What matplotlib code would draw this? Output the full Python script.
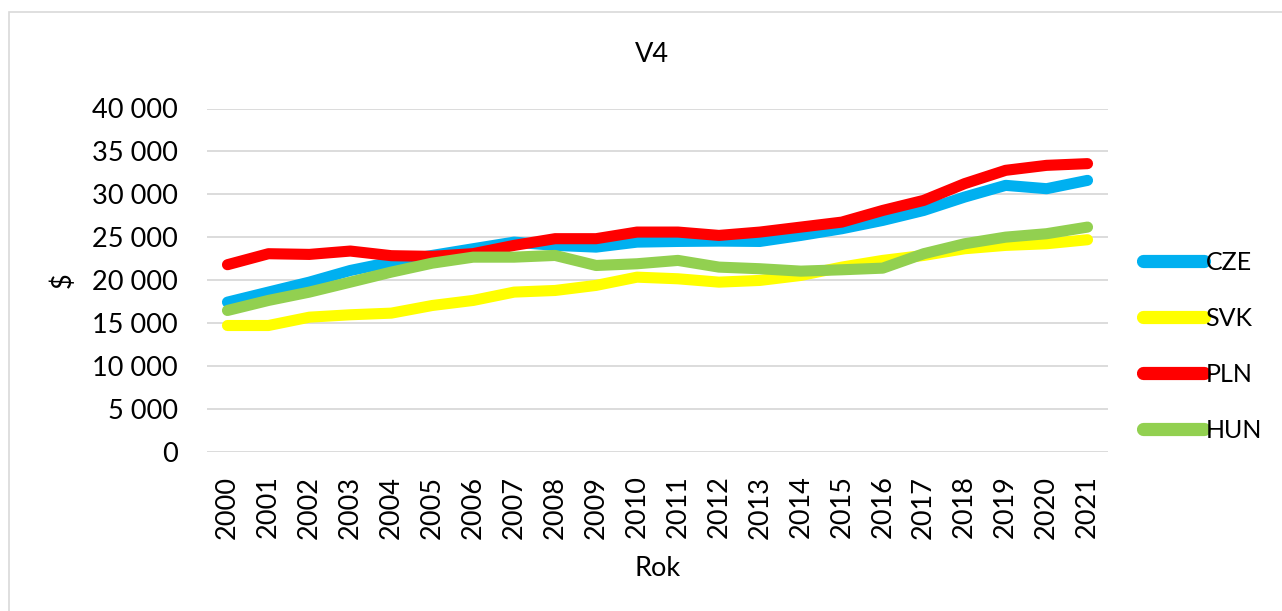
import matplotlib
matplotlib.use('Agg')
import matplotlib.pyplot as plt
from matplotlib.patches import Rectangle
from matplotlib.ticker import FuncFormatter
import numpy as np

plt.rcParams['font.family'] = ['Lato', 'DejaVu Sans']

# data
years = [str(y) for y in range(2000, 2022)]
cze = [17450, 18620, 19780, 21140, 22110, 22890, 23670, 24440, 24060, 23860, 24440,
       24520, 24560, 24520, 25220, 26000, 26970, 28130, 29690, 31050, 30660, 31630]
svk = [14730, 14730, 15700, 15980, 16170, 17060, 17650, 18620, 18810, 19400, 20360,
       20170, 19780, 19980, 20560, 21530, 22310, 22890, 23670, 24060, 24250, 24720]
pln = [21810, 23090, 23010, 23400, 22860, 22780, 23100, 24060, 24840, 24840, 25610,
       25610, 25220, 25610, 26190, 26770, 28130, 29300, 31250, 32800, 33380, 33580]
hun = [16480, 17650, 18620, 19780, 20950, 21990, 22690, 22690, 22890, 21720, 21920,
       22310, 21530, 21340, 21060, 21220, 21410, 23090, 24250, 25020, 25420, 26190]

series = [('CZE', cze, '#00B0F0'),
          ('SVK', svk, '#FFFF00'),
          ('PLN', pln, '#FF0000'),
          ('HUN', hun, '#92D050')]

fig = plt.figure(figsize=(12.82, 6.11), dpi=100)
ax = fig.add_axes([207 / 1282, 1 - 452 / 611, 901 / 1282, 343.5 / 611])

# grey chart border (only left and top visible in the reference)
fig.patches.append(Rectangle((9 / 1282, -0.1), 1.2, 1 - 12 / 611 + 0.1,
                             transform=fig.transFigure, fill=False,
                             edgecolor='#d9d9d9', linewidth=1.2))

x = np.arange(len(years))
for name, vals, col in series:
    ax.plot(x, vals, color=col, linewidth=8, solid_capstyle='round',
            solid_joinstyle='round', label=name)

ax.set_xlim(-0.5, len(years) - 0.5)
ax.set_ylim(0, 40000)
ax.set_yticks(np.arange(0, 40001, 5000))
ax.yaxis.set_major_formatter(FuncFormatter(lambda v, p: f'{int(v):,}'.replace(',', ' ')))
ax.set_xticks(x)
ax.set_xticklabels(years, rotation=90, fontsize=19.5)
ax.tick_params(axis='y', labelsize=19.5, length=0, pad=21)
ax.tick_params(axis='x', length=0, pad=17)
ax.grid(axis='y', color='#d9d9d9', linewidth=1.3)
ax.set_axisbelow(True)
for s in ax.spines.values():
    s.set_visible(False)

fig.text(652 / 1282, 1 - 55 / 611, 'V4', ha='center', va='center', fontsize=19.5)
fig.text(658 / 1282, 1 - 568 / 611, 'Rok', ha='center', va='center', fontsize=19.5)
fig.text(63 / 1282, 1 - 280 / 611, '$', ha='center', va='center', fontsize=19.5, rotation=90)

leg = ax.legend(loc='center left', bbox_to_anchor=(1143 / 1282, 1 - 346.5 / 611),
                bbox_transform=fig.transFigure, frameon=False, fontsize=18,
                handlelength=2.45, handletextpad=0.05, labelspacing=1.32,
                borderpad=0, borderaxespad=0)
for h in leg.get_lines():
    h.set_linewidth(9.5)

fig.savefig('out.png', dpi=100)
